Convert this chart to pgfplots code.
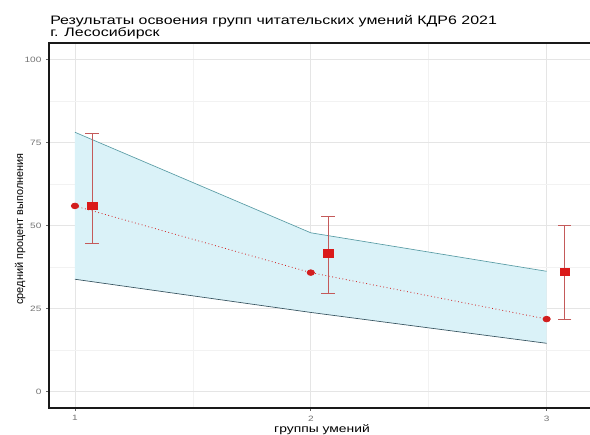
\documentclass[border=0pt]{standalone}
\usepackage{fontspec}
\setmainfont{Liberation Sans}[FakeStretch=1.3]
\newfontfamily\plainfont{Liberation Sans}
\usepackage{pgfplots}
\pgfplotsset{compat=1.18}
\definecolor{ribbon}{HTML}{DAF2F8}
\definecolor{upedge}{HTML}{5A9CA5}
\definecolor{lowedge}{HTML}{36535F}
\definecolor{ptred}{HTML}{D21E1E}
\definecolor{sqred}{HTML}{DA1A1A}
\definecolor{ebred}{HTML}{C45A5A}
\begin{document}
\begin{tikzpicture}
\useasboundingbox (0,0) rectangle (442.5pt,-326.25pt);
\begin{axis}[
  at={(36.75pt,-306pt)}, anchor=south west,
  scale only axis, width=409.5pt, height=273.75pt,
  xmin=0.89, xmax=3.205, ymin=-5, ymax=105,
  xtick={1,2,3}, ytick={0,25,50,75,100},
  minor xtick={1.5,2.5}, minor ytick={12.5,37.5,62.5,87.5},
  grid=both,
  major grid style={color=black!10, line width=0.5pt},
  minor grid style={color=black!5, line width=0.4pt},
  axis line style={draw=black!90, line width=0.8pt},
  tick align=outside, major tick length=2.2pt, minor tick length=0pt,
  tick style={black!60, line width=0.5pt},
  xtick pos=bottom, ytick pos=left,
  /pgf/number format/assume math mode=true,
  tick label style={font=\fontsize{5.8}{6}\selectfont, text=black!55},
]
\addplot[draw=none, fill=ribbon] coordinates {(1,78.1) (2,47.8) (3,36.2) (3,14.5) (2,23.8) (1,33.8)} -- cycle;
\addplot[upedge, line width=0.5pt] coordinates {(1,78.1) (2,47.8) (3,36.2)};
\addplot[lowedge, line width=0.5pt] coordinates {(1,33.8) (2,23.8) (3,14.5)};
\addplot[ptred, dotted, line width=0.6pt, mark=*, mark size=2.1pt,
  mark options={solid, xscale=1.3}] coordinates {(1,55.9) (2,35.8) (3,21.8)};
\addplot[only marks, mark=square*, mark size=2.8pt, sqred,
  mark options={xscale=1.3},
  error bars/.cd, y dir=both, y explicit,
  error bar style={ebred, line width=0.6pt},
  error mark options={rotate=90, ebred, line width=0.6pt, mark size=5pt}]
  coordinates {
   (1.072,55.9) += (0,21.9) -= (0,11.3)
   (2.073,41.6) += (0,11.2) -= (0,12.1)
   (3.077,36.1) += (0,13.9) -= (0,14.5)
  };
\end{axis}
\node[anchor=base west, inner sep=0pt, font=\fontsize{9.2}{9.5}\selectfont] at (37.5pt,-18.75pt) {Результаты освоения групп читательских умений КДР6 2021};
\node[anchor=base west, inner sep=0pt, font=\fontsize{9.2}{9.5}\selectfont] at (37.5pt,-27.4pt) {г. Лесосибирск};
\node[anchor=base, inner sep=0pt, font=\fontsize{8}{9}\selectfont] at (241.5pt,-324pt) {группы умений};
\node[anchor=base, rotate=90, inner sep=0pt, font=\plainfont\fontsize{8.2}{9}\selectfont] at (17.25pt,-171.75pt) {средний процент выполнения};
\end{tikzpicture}
\end{document}
